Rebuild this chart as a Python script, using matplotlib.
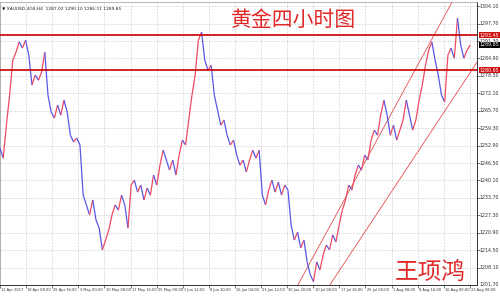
import numpy as np
import matplotlib
matplotlib.use("Agg")
import matplotlib.pyplot as plt
from matplotlib.collections import LineCollection

# data (4h closes, one point every ~4 bars)
#-----------------------------------------------------------------------------#
closes = [1252.0, 1248.3, 1260.4, 1271.4, 1284.3, 1287.2, 1291.0, 1288.7, 1291.6, 1286.1,
          1275.1, 1278.8, 1276.9, 1279.9, 1287.2, 1271.4, 1265.2, 1263.0, 1267.8, 1264.1,
          1269.6, 1265.2, 1256.7, 1254.2, 1255.7, 1253.1, 1234.7, 1231.1, 1227.4, 1232.9,
          1225.6, 1222.6, 1214.6, 1218.2, 1221.9, 1227.4, 1231.1, 1229.2, 1234.7, 1231.1,
          1222.6, 1238.4, 1240.2, 1235.8, 1238.4, 1232.9, 1237.3, 1234.7, 1242.1, 1238.4,
          1245.7, 1251.2, 1247.6, 1243.9, 1247.6, 1242.1, 1249.4, 1254.9, 1253.1, 1262.3,
          1271.4, 1278.8, 1291.6, 1294.6, 1284.3, 1280.6, 1282.4, 1271.4, 1265.9, 1260.4,
          1262.3, 1256.7, 1253.1, 1254.9, 1249.4, 1245.7, 1247.6, 1243.2, 1247.6, 1251.2,
          1248.3, 1251.2, 1234.7, 1231.1, 1236.6, 1240.2, 1235.8, 1239.5, 1234.7, 1238.4,
          1236.6, 1223.7, 1218.2, 1221.1, 1215.3, 1218.2, 1210.2, 1205.4, 1202.9, 1210.2,
          1207.2, 1212.7, 1216.4, 1214.6, 1220.1, 1217.5, 1223.7, 1229.2, 1232.9, 1238.4,
          1236.6, 1242.1, 1245.7, 1243.9, 1249.4, 1247.6, 1254.9, 1258.6, 1256.7, 1264.1,
          1269.6, 1264.1, 1256.7, 1260.4, 1254.9, 1258.6, 1262.3, 1269.6, 1264.1, 1258.6,
          1262.3, 1269.6, 1275.1, 1282.4, 1288.0, 1290.9, 1284.3, 1278.8, 1271.4, 1268.9,
          1286.1, 1288.7, 1285.0, 1299.7, 1289.8, 1285.0, 1288.0, 1289.85]

date_labels = ["11 Apr 2017", "18 Apr 08:00", "25 Apr 16:00", "3 May 00:00", "10 May 08:00",
               "17 May 16:00", "25 May 00:00", "1 Jun 12:00", "8 Jun 20:00", "16 Jun 04:00",
               "23 Jun 12:00", "30 Jun 20:00", "10 Jul 08:00", "17 Jul 16:00", "25 Jul 00:00",
               "1 Aug 08:00", "8 Aug 16:00", "16 Aug 00:00", "23 Aug 08:00"]

price_labels = [1304.10, 1297.70, 1291.30, 1284.90, 1278.50, 1272.10, 1265.70, 1259.30,
                1252.90, 1246.50, 1240.10, 1233.70, 1227.30, 1220.90, 1214.50, 1208.10]
bottom_label = 1201.70

levels = [1293.45, 1280.65]   # horizontal resistance / support
last_close = 1289.85

# channel lines (x in points, price)
upper_x = [93.1, 141.3]
upper_y = [1201.7, 1305.6]
lower_x = [103.1, 149.1]
lower_y = [1201.7, 1283.5]

header = "\u25bc XAUUSD-4GS,H4  1287.02 1290.10 1286.11 1289.85"

#plotting
#-----------------------------------------------------------------------------#
up_col = "#ee4a62"
dn_col = "#5a56e6"
ymin, ymax = 1201.7, 1305.6
xmax = 149.1

fig = plt.figure(figsize=(5, 3), dpi=100)
ax = fig.add_axes([0.0, 0.05, 0.954, 0.943])

x = np.arange(len(closes))
segs = []
cols = []
for i in range(1, len(closes)):
    segs.append([(x[i - 1], closes[i - 1]), (x[i], closes[i])])
    cols.append(up_col if closes[i] >= closes[i - 1] else dn_col)
ax.add_collection(LineCollection(segs, colors=cols, linewidths=0.9, zorder=3))

for lv in levels:
    ax.axhline(lv, color="#c80000", lw=1.2, zorder=4)

ax.plot(upper_x, upper_y, color="#e05050", lw=0.6, zorder=2)
ax.plot(lower_x, lower_y, color="#e05050", lw=0.6, zorder=2)

ax.set_xlim(0, xmax)
ax.set_ylim(ymin, ymax)

xt = np.arange(len(date_labels)) * 8.16
ax.set_xticks(xt)
ax.set_xticklabels([])
ax.set_yticks(price_labels)
ax.set_yticklabels([])
ax.tick_params(axis="x", length=2, width=0.5, colors="#444444")
ax.tick_params(axis="y", length=2, width=0.5, colors="#444444",
               right=True, left=False)
ax.grid(True, color="#c8c8c8", lw=0.5, ls=(0, (2, 2)))

for t, lab in zip(xt, date_labels):
    ax.text(t + 0.4, ymin - 1.2, lab, fontsize=2.6, color="#333333",
            ha="left", va="top", clip_on=False)
for p in price_labels + [bottom_label]:
    ax.text(xmax + 0.9, p, "%.2f" % p, fontsize=3.4, color="#333333",
            ha="left", va="center", clip_on=False)

for lv in levels:
    ax.text(xmax + 0.9, lv, "%.2f" % lv, fontsize=3.4, color="white",
            ha="left", va="center", clip_on=False,
            bbox=dict(boxstyle="square,pad=0.15", fc="#d01010", ec="none"))
ax.text(xmax + 0.9, last_close, "%.2f" % last_close, fontsize=3.4, color="white",
        ha="left", va="center", clip_on=False,
        bbox=dict(boxstyle="square,pad=0.15", fc="black", ec="none"))

for s in ["left", "top"]:
    ax.spines[s].set_color("#999999")
    ax.spines[s].set_linewidth(0.5)
for s in ["right", "bottom"]:
    ax.spines[s].set_color("#333333")
    ax.spines[s].set_linewidth(0.7)

ax.text(0.004, 0.985, header, transform=ax.transAxes, fontsize=3.2,
        color="#222222", ha="left", va="top", family=["DejaVu Sans"])

cjk = ["Noto Sans CJK SC", "DejaVu Sans"]
fig.text(0.586, 0.933, "黄金四小时图", fontsize=15, color="#e02828",
         ha="center", va="center", family=cjk)
fig.text(0.86, 0.092, "王项鸿", fontsize=17, color="#e02828",
         ha="center", va="center", family=cjk)

fig.savefig("out.png", dpi=100, facecolor="white")
